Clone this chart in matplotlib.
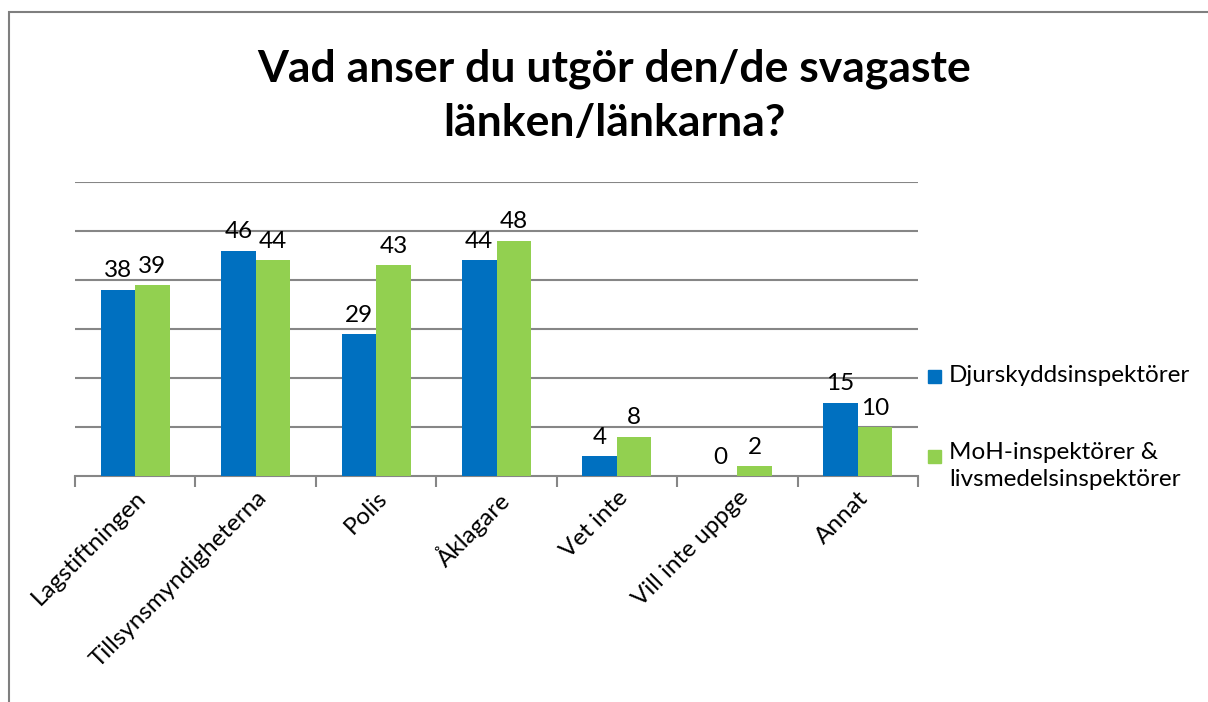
import numpy as np
import matplotlib.pyplot as plt
from matplotlib.patches import Rectangle

plt.rcParams['font.family'] = ['Lato', 'DejaVu Sans']

categories = ['Lagstiftningen', 'Tillsynsmyndigheterna', 'Polis', 'Åklagare',
              'Vet inte', 'Vill inte uppge', 'Annat']
djur = [38, 46, 29, 44, 4, 0, 15]
moh = [39, 44, 43, 48, 8, 2, 10]
series_names = ['Djurskyddsinspektörer', 'MoH-inspektörer &\nlivsmedelsinspektörer']
title = 'Vad anser du utgör den/de svagaste\nlänken/länkarna?'

blue = '#0070C0'
green = '#92D050'
grid = '#868686'

fig = plt.figure(figsize=(12.08, 7.02), dpi=100)
# chart border (runs off the right/bottom of the picture)
fig.patches.append(Rectangle((9 / 1208, -0.05), 1.2, (702 - 12) / 702 + 0.05,
                             transform=fig.transFigure, fill=False,
                             edgecolor='#7f7f7f', linewidth=1.5))

ax = fig.add_axes([75 / 1208, 226 / 702, 843 / 1208, 294 / 702])
x = np.arange(len(categories))
w = 0.287
b1 = ax.bar(x - w / 2, djur, w, color=blue, zorder=3)
b2 = ax.bar(x + w / 2, moh, w, color=green, zorder=3)

for bars, vals in ((b1, djur), (b2, moh)):
    for r, v in zip(bars, vals):
        ax.annotate(str(v), (r.get_x() + r.get_width() / 2, v),
                    xytext=(0, 6), textcoords='offset points',
                    ha='center', va='bottom', fontsize=17.5)

ax.set_xlim(-0.5, len(categories) - 0.5)
ax.set_ylim(0, 60)
ax.set_yticks(np.arange(10, 61, 10))
ax.yaxis.grid(True, color=grid, linewidth=1.5, zorder=0)
ax.tick_params(axis='y', left=False, labelleft=False)
for s in ('left', 'right', 'top'):
    ax.spines[s].set_visible(False)
ax.spines['bottom'].set_color(grid)
ax.spines['bottom'].set_linewidth(1.5)

ax.set_xticks(np.arange(-0.5, len(categories)), minor=False)
ax.set_xticklabels([])
ax.tick_params(axis='x', which='major', length=8, width=1.5, color=grid)
ax.set_xticks(x, minor=True)
ax.set_xticklabels(categories, minor=True, rotation=45, ha='right',
                   rotation_mode='anchor', fontsize=17.5)
ax.tick_params(axis='x', which='minor', length=0, pad=8)

fig.text(614 / 1208, 1 - 96 / 702, title, ha='center', va='center',
         fontsize=32, fontweight='bold', linespacing=1.42)

# legend
for yc, col in ((376, blue), (456, green)):
    fig.patches.append(Rectangle((928 / 1208, 1 - (yc + 7) / 702), 13 / 1208, 13 / 702,
                                 transform=fig.transFigure, color=col))
fig.text(949 / 1208, 1 - 376 / 702, series_names[0], ha='left', va='center', fontsize=17.5)
fig.text(949 / 1208, 1 - 442 / 702, series_names[1], ha='left', va='top',
         fontsize=17.5, linespacing=1.35)

fig.savefig('out.png', dpi=100)
